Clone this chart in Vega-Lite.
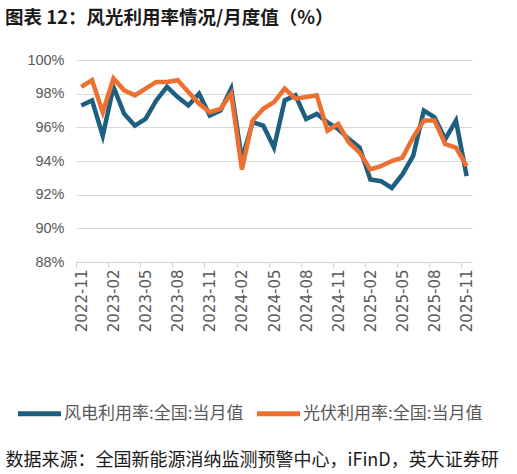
{
  "$schema": "https://vega.github.io/schema/vega-lite/v6.json",
  "background": "white",
  "autosize": "none",
  "width": 396,
  "height": 202,
  "padding": {"left": 76, "top": 60, "right": 45, "bottom": 212},
  "title": {
    "text": "图表 12：风光利用率情况/月度值（%）",
    "anchor": "start",
    "frame": "group",
    "dx": -71,
    "offset": 25,
    "font": "Noto Sans CJK SC",
    "fontSize": 18.5,
    "fontWeight": "bold",
    "color": "#1a1a1a"
  },
  "data": {
    "values": [
      {"month": "2022-11", "series": "风电利用率:全国:当月值", "rate": 97.3},
      {"month": "2022-12", "series": "风电利用率:全国:当月值", "rate": 97.6},
      {"month": "2023-01", "series": "风电利用率:全国:当月值", "rate": 95.5},
      {"month": "2023-02", "series": "风电利用率:全国:当月值", "rate": 98.4},
      {"month": "2023-03", "series": "风电利用率:全国:当月值", "rate": 96.8},
      {"month": "2023-04", "series": "风电利用率:全国:当月值", "rate": 96.1},
      {"month": "2023-05", "series": "风电利用率:全国:当月值", "rate": 96.5},
      {"month": "2023-06", "series": "风电利用率:全国:当月值", "rate": 97.6},
      {"month": "2023-07", "series": "风电利用率:全国:当月值", "rate": 98.4},
      {"month": "2023-08", "series": "风电利用率:全国:当月值", "rate": 97.8},
      {"month": "2023-09", "series": "风电利用率:全国:当月值", "rate": 97.3},
      {"month": "2023-10", "series": "风电利用率:全国:当月值", "rate": 98.0},
      {"month": "2023-11", "series": "风电利用率:全国:当月值", "rate": 96.7},
      {"month": "2023-12", "series": "风电利用率:全国:当月值", "rate": 97.0},
      {"month": "2024-01", "series": "风电利用率:全国:当月值", "rate": 98.3},
      {"month": "2024-02", "series": "风电利用率:全国:当月值", "rate": 94.1},
      {"month": "2024-03", "series": "风电利用率:全国:当月值", "rate": 96.3},
      {"month": "2024-04", "series": "风电利用率:全国:当月值", "rate": 96.1},
      {"month": "2024-05", "series": "风电利用率:全国:当月值", "rate": 94.8},
      {"month": "2024-06", "series": "风电利用率:全国:当月值", "rate": 97.6},
      {"month": "2024-07", "series": "风电利用率:全国:当月值", "rate": 97.9},
      {"month": "2024-08", "series": "风电利用率:全国:当月值", "rate": 96.5},
      {"month": "2024-09", "series": "风电利用率:全国:当月值", "rate": 96.8},
      {"month": "2024-10", "series": "风电利用率:全国:当月值", "rate": 96.3},
      {"month": "2024-11", "series": "风电利用率:全国:当月值", "rate": 95.9},
      {"month": "2024-12", "series": "风电利用率:全国:当月值", "rate": 95.3},
      {"month": "2025-01", "series": "风电利用率:全国:当月值", "rate": 94.8},
      {"month": "2025-02", "series": "风电利用率:全国:当月值", "rate": 92.9},
      {"month": "2025-03", "series": "风电利用率:全国:当月值", "rate": 92.8},
      {"month": "2025-04", "series": "风电利用率:全国:当月值", "rate": 92.4},
      {"month": "2025-05", "series": "风电利用率:全国:当月值", "rate": 93.2},
      {"month": "2025-06", "series": "风电利用率:全国:当月值", "rate": 94.3},
      {"month": "2025-07", "series": "风电利用率:全国:当月值", "rate": 97.0},
      {"month": "2025-08", "series": "风电利用率:全国:当月值", "rate": 96.6},
      {"month": "2025-09", "series": "风电利用率:全国:当月值", "rate": 95.3},
      {"month": "2025-10", "series": "风电利用率:全国:当月值", "rate": 96.4},
      {"month": "2025-11", "series": "风电利用率:全国:当月值", "rate": 93.1},
      {"month": "2022-11", "series": "光伏利用率:全国:当月值", "rate": 98.4},
      {"month": "2022-12", "series": "光伏利用率:全国:当月值", "rate": 98.8},
      {"month": "2023-01", "series": "光伏利用率:全国:当月值", "rate": 96.9},
      {"month": "2023-02", "series": "光伏利用率:全国:当月值", "rate": 98.9},
      {"month": "2023-03", "series": "光伏利用率:全国:当月值", "rate": 98.2},
      {"month": "2023-04", "series": "光伏利用率:全国:当月值", "rate": 97.9},
      {"month": "2023-05", "series": "光伏利用率:全国:当月值", "rate": 98.3},
      {"month": "2023-06", "series": "光伏利用率:全国:当月值", "rate": 98.7},
      {"month": "2023-07", "series": "光伏利用率:全国:当月值", "rate": 98.7},
      {"month": "2023-08", "series": "光伏利用率:全国:当月值", "rate": 98.8},
      {"month": "2023-09", "series": "光伏利用率:全国:当月值", "rate": 98.1},
      {"month": "2023-10", "series": "光伏利用率:全国:当月值", "rate": 97.4},
      {"month": "2023-11", "series": "光伏利用率:全国:当月值", "rate": 96.9},
      {"month": "2023-12", "series": "光伏利用率:全国:当月值", "rate": 97.1},
      {"month": "2024-01", "series": "光伏利用率:全国:当月值", "rate": 98.0},
      {"month": "2024-02", "series": "光伏利用率:全国:当月值", "rate": 93.5},
      {"month": "2024-03", "series": "光伏利用率:全国:当月值", "rate": 96.4},
      {"month": "2024-04", "series": "光伏利用率:全国:当月值", "rate": 97.1},
      {"month": "2024-05", "series": "光伏利用率:全国:当月值", "rate": 97.5},
      {"month": "2024-06", "series": "光伏利用率:全国:当月值", "rate": 98.3},
      {"month": "2024-07", "series": "光伏利用率:全国:当月值", "rate": 97.7},
      {"month": "2024-08", "series": "光伏利用率:全国:当月值", "rate": 97.8},
      {"month": "2024-09", "series": "光伏利用率:全国:当月值", "rate": 97.9},
      {"month": "2024-10", "series": "光伏利用率:全国:当月值", "rate": 95.8},
      {"month": "2024-11", "series": "光伏利用率:全国:当月值", "rate": 96.2},
      {"month": "2024-12", "series": "光伏利用率:全国:当月值", "rate": 95.1},
      {"month": "2025-01", "series": "光伏利用率:全国:当月值", "rate": 94.5},
      {"month": "2025-02", "series": "光伏利用率:全国:当月值", "rate": 93.5},
      {"month": "2025-03", "series": "光伏利用率:全国:当月值", "rate": 93.7},
      {"month": "2025-04", "series": "光伏利用率:全国:当月值", "rate": 94.0},
      {"month": "2025-05", "series": "光伏利用率:全国:当月值", "rate": 94.2},
      {"month": "2025-06", "series": "光伏利用率:全国:当月值", "rate": 95.4},
      {"month": "2025-07", "series": "光伏利用率:全国:当月值", "rate": 96.4},
      {"month": "2025-08", "series": "光伏利用率:全国:当月值", "rate": 96.4},
      {"month": "2025-09", "series": "光伏利用率:全国:当月值", "rate": 95.0},
      {"month": "2025-10", "series": "光伏利用率:全国:当月值", "rate": 94.8},
      {"month": "2025-11", "series": "光伏利用率:全国:当月值", "rate": 93.7}
    ]
  },
  "mark": {"type": "line", "strokeWidth": 4.5, "strokeJoin": "miter"},
  "encoding": {
    "x": {
      "field": "month",
      "type": "ordinal",
      "sort": null,
      "scale": {"type": "point", "padding": 0.5},
      "axis": {
        "values": ["2022-11", "2023-02", "2023-05", "2023-08", "2023-11", "2024-02", "2024-05", "2024-08", "2024-11", "2025-02", "2025-05", "2025-08", "2025-11"],
        "tickOffset": -5.35,
        "labelOffset": 5.35,
        "labelAngle": -90,
        "labelOverlap": false,
        "labelFlush": false,
        "labelBound": false,
        "labelFont": "DejaVu Sans",
        "labelFontSize": 15,
        "labelColor": "#595959",
        "labelPadding": 2,
        "domainColor": "#d0d0d0",
        "tickColor": "#d0d0d0",
        "tickSize": 5,
        "grid": false,
        "title": "数据来源：全国新能源消纳监测预警中心，iFinD，英大证券研",
        "titleX": -71,
        "titleY": 198,
        "titleAlign": "left",
        "titleBaseline": "middle",
        "titleFont": "Noto Sans CJK SC",
        "titleFontSize": 18,
        "titleFontWeight": "normal",
        "titleColor": "#1a1a1a"
      }
    },
    "y": {
      "field": "rate",
      "type": "quantitative",
      "scale": {"domain": [88, 100], "nice": false, "zero": false},
      "axis": {
        "values": [88, 90, 92, 94, 96, 98, 100],
        "labelExpr": "datum.value + '%'",
        "labelFont": "Liberation Sans",
        "labelFontSize": 14.5,
        "labelColor": "#595959",
        "labelPadding": 12,
        "domain": false,
        "ticks": false,
        "gridColor": "#d9d9d9",
        "gridWidth": 1.2,
        "title": null
      }
    },
    "color": {
      "field": "series",
      "type": "nominal",
      "sort": ["风电利用率:全国:当月值", "光伏利用率:全国:当月值"],
      "scale": {"range": ["#1c5f81", "#ee7031"]},
      "legend": {
        "orient": "none",
        "direction": "horizontal",
        "legendX": -61,
        "legendY": 329,
        "title": null,
        "symbolType": "stroke",
        "symbolSize": 1850,
        "symbolStrokeWidth": 5,
        "labelFont": "Noto Sans CJK SC",
        "labelFontSize": 17,
        "labelColor": "#595959",
        "labelLimit": 300,
        "labelOffset": 0,
        "columnPadding": 2
      }
    }
  },
  "config": {
    "view": {"stroke": null}
  }
}
